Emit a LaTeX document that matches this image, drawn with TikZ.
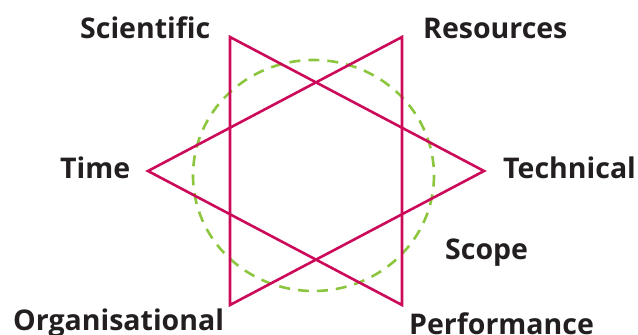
\documentclass[tikz,border=0pt]{standalone}
\usepackage{fontspec}
\setmainfont{Open Sans}
\definecolor{mag}{HTML}{CC0A5A}
\definecolor{grn}{HTML}{8CC63F}
\definecolor{txt}{HTML}{231F20}
\begin{document}
\begin{tikzpicture}[x=1pt,y=-1pt,
  tri/.style={draw=mag,line width=2.6pt,line join=miter},
  ring/.style={draw=grn,line width=2.6pt,dash pattern=on 11pt off 8pt},
  lab/.style={anchor=base west,inner sep=0pt,text=txt,font=\fontsize{28.5}{28.5}\selectfont\bfseries}]
\useasboundingbox (0,0) rectangle (638,335);
\draw[ring] (313.5,175.5) ellipse [x radius=120.5, y radius=115.5];
\coordinate (sc) at (230,37);
\coordinate (re) at (402,37);
\coordinate (te) at (484,171);
\coordinate (pe) at (402,305);
\coordinate (or) at (230,305);
\coordinate (ti) at (148,171);
\draw[tri] (sc) -- (te) -- (or) -- cycle;
\draw[tri] (re) -- (ti) -- (pe) -- cycle;
\node[lab] (lsc) at (80,38) {Scientific};
\node[lab] (lre) at (423,38) {Resources};
\node[lab] (lti) at (60,178) {Time};
\node[lab] (lte) at (503,178) {Technical};
\node[lab] (lsp) at (445,259) {Scope};
\node[lab] (lor) at (13,330) {Organisational};
\node[lab] (lpe) at (409,334) {Performance};
\end{tikzpicture}
\end{document}
